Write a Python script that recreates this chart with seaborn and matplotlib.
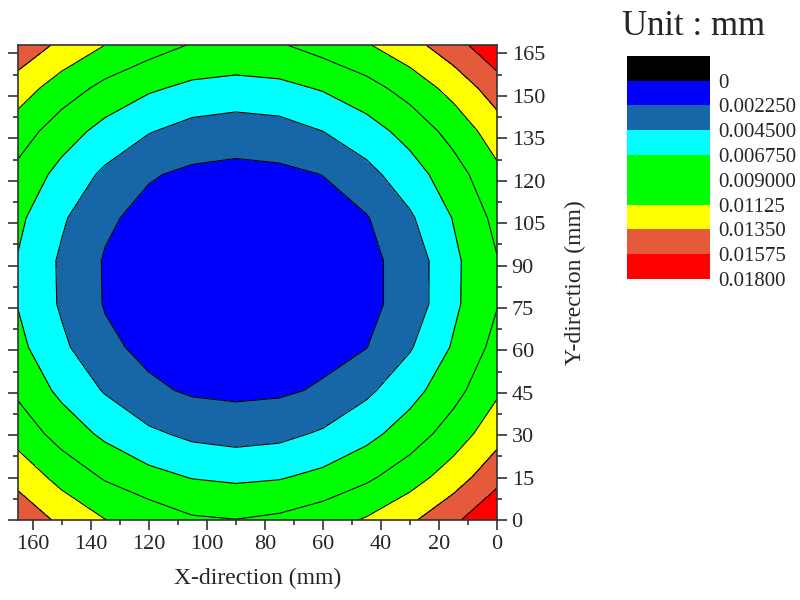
import numpy as np
import matplotlib
matplotlib.use('Agg')
import matplotlib.pyplot as plt
import matplotlib.colors as mcolors
import matplotlib.ticker as mticker
import matplotlib.cm as cm
import seaborn as sns

# grid positions (mm) and deflection values (mm)
x_mm = [0, 15, 30, 45, 60, 75, 90, 105, 120, 135, 150, 165]
y_mm = [0, 15.3, 30.5, 45.8, 61.1, 76.4, 91.6, 106.9, 122.2, 137.5, 152.7, 168]
z_mm = [
    [0.0179, 0.01527, 0.01313, 0.01147, 0.0103, 0.00945, 0.00905, 0.0093, 0.01043, 0.0113, 0.0130, 0.0152],
    [0.01499, 0.01237, 0.01023, 0.00855, 0.0073, 0.00655, 0.00633, 0.00662, 0.00743, 0.00875, 0.01049, 0.01269],
    [0.01266, 0.01004, 0.00784, 0.00606, 0.00478, 0.00393, 0.00366, 0.00401, 0.00492, 0.00627, 0.00811, 0.01037],
    [0.0109, 0.00824, 0.00594, 0.00407, 0.00253, 0.0019, 0.00175, 0.00195, 0.0027, 0.00432, 0.00622, 0.00858],
    [0.00972, 0.00698, 0.0043, 0.0022, 0.00155, 0.00106, 0.0009, 0.0011, 0.00165, 0.00277, 0.00494, 0.00732],
    [0.0089, 0.00632, 0.0031, 0.0017, 0.00111, 0.00062, 0.00047, 0.00066, 0.00121, 0.0021, 0.00423, 0.00667],
    [0.0089, 0.00628, 0.0031, 0.0017, 0.00109, 0.00059, 0.00044, 0.00064, 0.00118, 0.00207, 0.00418, 0.00663],
    [0.00961, 0.00686, 0.0042, 0.0021, 0.00147, 0.00097, 0.00082, 0.00102, 0.00156, 0.00262, 0.00481, 0.0072],
    [0.01072, 0.00804, 0.00574, 0.00382, 0.00228, 0.00177, 0.00162, 0.00182, 0.00245, 0.00408, 0.00602, 0.00838],
    [0.01241, 0.00979, 0.00756, 0.00578, 0.0045, 0.00359, 0.00332, 0.00368, 0.00464, 0.00599, 0.00783, 0.01011],
    [0.01464, 0.01202, 0.00988, 0.00818, 0.00693, 0.00618, 0.00595, 0.00625, 0.00706, 0.00838, 0.01014, 0.01234],
    [0.01747, 0.01485, 0.01271, 0.01106, 0.00989, 0.0088, 0.00855, 0.00885, 0.01001, 0.01125, 0.01297, 0.01517],
]

fill_levels = [0, 0.00225, 0.0045, 0.00675, 0.01125, 0.0135, 0.01575, 0.018]
fill_colors = ['#0000ff', '#1767a8', '#00ffff', '#00ff00', '#ffff00', '#e65a3c', '#ff0000']
line_levels = [0.00225, 0.0045, 0.00675, 0.009, 0.01125, 0.0135, 0.01575]

bar_bounds = [-0.00225, 0, 0.00225, 0.0045, 0.00675, 0.009, 0.01125, 0.0135, 0.01575, 0.018]
bar_colors = ['#000000', '#0000ff', '#1767a8', '#00ffff', '#00ff00', '#00ff00',
              '#ffff00', '#e65a3c', '#ff0000']
bar_labels = ['0', '0.002250', '0.004500', '0.006750', '0.009000',
              '0.01125', '0.01350', '0.01575', '0.01800']

sns.set_theme(style='ticks')
plt.rcParams['font.family'] = ['Liberation Serif', 'DejaVu Serif']

fig = plt.figure(figsize=(8, 6), dpi=100)
ax = fig.add_axes([0.0225, 0.1333, 0.5988, 0.7917])

X, Y = np.meshgrid(x_mm, y_mm)
Z = np.array(z_mm)
ax.contourf(X, Y, Z, levels=fill_levels, colors=fill_colors)
ax.contour(X, Y, Z, levels=line_levels, colors='black', linewidths=0.8)

ax.set_xlim(165, 0)
ax.set_ylim(0, 168)
ax.xaxis.set_major_locator(mticker.MultipleLocator(20))
ax.xaxis.set_minor_locator(mticker.MultipleLocator(10))
ax.yaxis.set_major_locator(mticker.MultipleLocator(15))
ax.yaxis.set_minor_locator(mticker.MultipleLocator(7.5))
ax.tick_params(which='both', direction='out', top=False, bottom=True,
               left=True, right=True, labelleft=False, labelright=True,
               labelsize=16, color='#333333', width=1.2)
ax.tick_params(which='major', length=7)
ax.tick_params(which='minor', length=3.5)
for s in ax.spines.values():
    s.set_linewidth(1.2)
    s.set_color('#333333')

ax.yaxis.set_label_position('right')
ax.set_xlabel('X-direction (mm)', fontsize=17, labelpad=10)
ax.set_ylabel('Y-direction (mm)', fontsize=17, labelpad=14)

# stepped colour key on the right
cax = fig.add_axes([0.784, 0.535, 0.104, 0.372])
cmap = mcolors.ListedColormap(bar_colors)
norm = mcolors.BoundaryNorm(bar_bounds, cmap.N)
cb = fig.colorbar(cm.ScalarMappable(norm=norm, cmap=cmap), cax=cax,
                  ticks=bar_bounds[1:], spacing='proportional')
cax.invert_yaxis()
cb.set_ticklabels(bar_labels)
cb.minorticks_off()
cb.outline.set_visible(False)
cax.tick_params(which='both', length=0, labelsize=15, pad=6)

fig.text(0.777, 1 - 35 / 600, 'Unit : mm', fontsize=25, va='baseline')

fig.savefig('out.png', dpi=100)
